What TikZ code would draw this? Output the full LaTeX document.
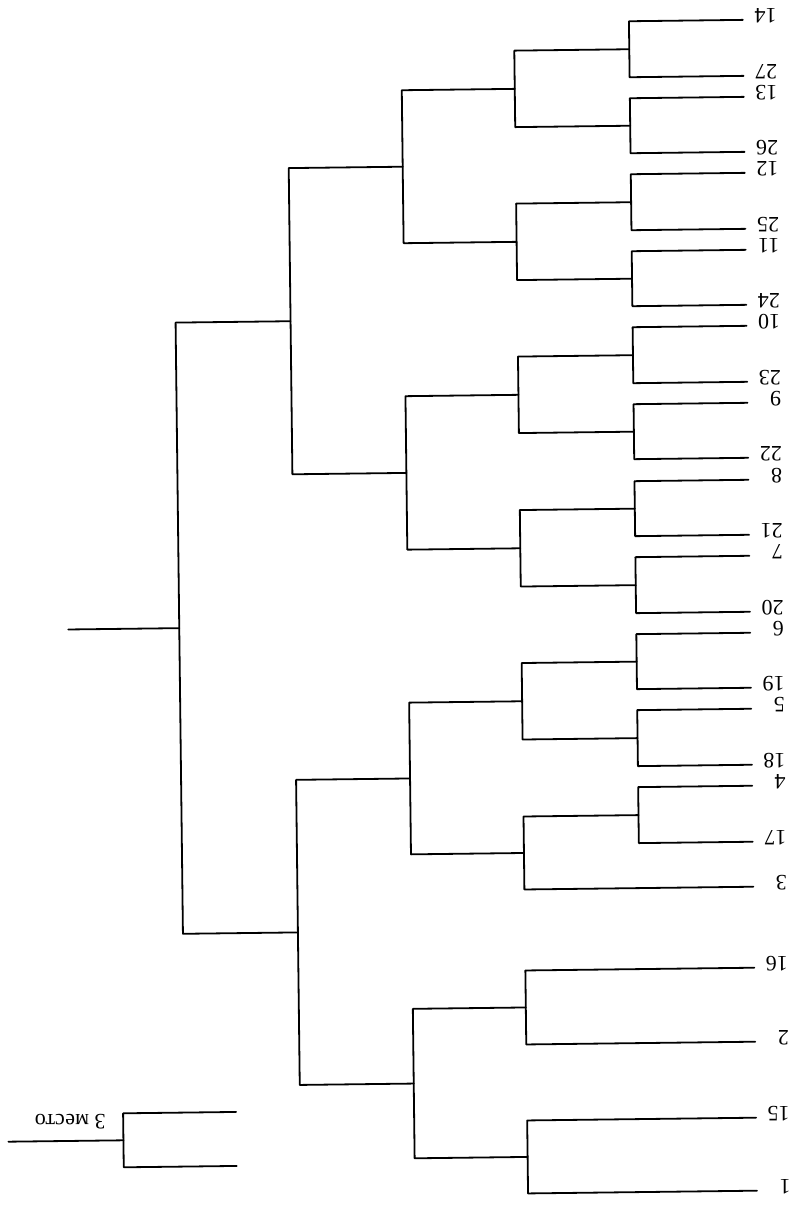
\documentclass[tikz,border=0pt]{standalone}
\usepackage{fontspec}
\setmainfont{Liberation Serif}
\usetikzlibrary{positioning}
\tikzset{
  bracket/.style={line width=0.9pt},
  seed/.style={rotate=180, anchor=west, inner sep=0pt, font=\fontsize{11}{13}\selectfont},
}
\begin{document}
\begin{tikzpicture}[x=0.5pt, y=-0.5pt, line cap=round, line join=round]
  \useasboundingbox (0,0) rectangle (805,1211);
  \begin{scope}[rotate around={0.69:(402,605)}]
    % Leaf ends
    \coordinate (l14) at (750,24);   \coordinate (l27) at (750,80);
    \coordinate (l13) at (750,101);  \coordinate (l26) at (750,156);
    \coordinate (l12) at (750,177);  \coordinate (l25) at (750,233);
    \coordinate (l11) at (750,254);  \coordinate (l24) at (750,309);
    \coordinate (l10) at (750,330);  \coordinate (l23) at (750,386);
    \coordinate (l9) at (750,407);   \coordinate (l22) at (750,462);
    \coordinate (l8) at (750,484);   \coordinate (l21) at (750,539);
    \coordinate (l7) at (750,560);   \coordinate (l20) at (750,616);
    \coordinate (l6) at (750,637);   \coordinate (l19) at (750,692);
    \coordinate (l5) at (750,713);   \coordinate (l18) at (750,769);
    \coordinate (l4) at (750,790);   \coordinate (l17) at (750,846);
    \coordinate (l3) at (750,891);
    \coordinate (l16) at (750,972);  \coordinate (l2) at (750,1046);
    \coordinate (l15) at (750,1122); \coordinate (l1) at (750,1195);

    % Seed numbers (upside down)
    \node[seed] (s14) at (784,20) {14};   \node[seed] (s27) at (784,76) {27};
    \node[seed] (s13) at (784,97) {13};   \node[seed] (s26) at (784,152) {26};
    \node[seed] (s12) at (784,173) {12};  \node[seed] (s25) at (784,229) {25};
    \node[seed] (s11) at (784,250) {11};  \node[seed] (s24) at (784,305) {24};
    \node[seed] (s10) at (784,326) {10};  \node[seed] (s23) at (784,382) {23};
    \node[seed] (s9) at (784,403) {9};    \node[seed] (s22) at (784,458) {22};
    \node[seed] (s8) at (784,480) {8};    \node[seed] (s21) at (784,535) {21};
    \node[seed] (s7) at (784,556) {7};    \node[seed] (s20) at (784,612) {20};
    \node[seed] (s6) at (784,633) {6};    \node[seed] (s19) at (784,688) {19};
    \node[seed] (s5) at (784,709) {5};    \node[seed] (s18) at (784,765) {18};
    \node[seed] (s4) at (784,786) {4};    \node[seed] (s17) at (784,842) {17};
    \node[seed] (s3) at (784,887) {3};
    \node[seed] (s16) at (784,968) {16};  \node[seed] (s2) at (784,1042) {2};
    \node[seed] (s15) at (784,1118) {15}; \node[seed] (s1) at (784,1191) {1};

    % First round
    \coordinate (j1) at (636,52);    \coordinate (j2) at (636,128.5);
    \coordinate (j3) at (636,205);   \coordinate (j4) at (636,281.5);
    \coordinate (j5) at (636,358);   \coordinate (j6) at (636,434.5);
    \coordinate (j7) at (636,511.5); \coordinate (j8) at (636,588);
    \coordinate (j9) at (636,664.5); \coordinate (j10) at (636,741);
    \coordinate (j11) at (636,818);
    \draw[bracket] (l14) -| (j1) |- (l27);
    \draw[bracket] (l13) -| (j2) |- (l26);
    \draw[bracket] (l12) -| (j3) |- (l25);
    \draw[bracket] (l11) -| (j4) |- (l24);
    \draw[bracket] (l10) -| (j5) |- (l23);
    \draw[bracket] (l9) -| (j6) |- (l22);
    \draw[bracket] (l8) -| (j7) |- (l21);
    \draw[bracket] (l7) -| (j8) |- (l20);
    \draw[bracket] (l6) -| (j9) |- (l19);
    \draw[bracket] (l5) -| (j10) |- (l18);
    \draw[bracket] (l4) -| (j11) |- (l17);

    % Second round
    \coordinate (a1) at (521,90.25);  \coordinate (a2) at (521,243.25);
    \coordinate (a3) at (521,396.25); \coordinate (a4) at (521,549.75);
    \coordinate (a5) at (521,702.75); \coordinate (a6) at (521,854.5);
    \coordinate (a7) at (521,1009);   \coordinate (a8) at (521,1158.5);
    \draw[bracket] (j1) -| (a1) |- (j2);
    \draw[bracket] (j3) -| (a2) |- (j4);
    \draw[bracket] (j5) -| (a3) |- (j6);
    \draw[bracket] (j7) -| (a4) |- (j8);
    \draw[bracket] (j9) -| (a5) |- (j10);
    \draw[bracket] (j11) -| (a6) |- (l3);
    \draw[bracket] (l16) -| (a7) |- (l2);
    \draw[bracket] (l15) -| (a8) |- (l1);

    % Quarter finals
    \coordinate (c1) at (408,166.75); \coordinate (c2) at (408,473);
    \coordinate (c3) at (408,778.6);  \coordinate (c4) at (408,1083.75);
    \draw[bracket] (a1) -| (c1) |- (a2);
    \draw[bracket] (a3) -| (c2) |- (a4);
    \draw[bracket] (a5) -| (c3) |- (a6);
    \draw[bracket] (a7) -| (c4) |- (a8);

    % Semi finals and final
    \coordinate (d1) at (294,319.9);
    \coordinate (d2) at (294,931.2);
    \draw[bracket] (c1) -| (d1) |- (c2);
    \draw[bracket] (c3) -| (d2) |- (c4);
    \coordinate (fin) at (179,625.5);
    \coordinate (win) at (68,625.5);
    \draw[bracket] (d1) -| (fin) |- (d2);
    \draw[bracket] (fin) -- (win);

    % Match for third place
    \coordinate (t1) at (230,1110);
    \coordinate (t2) at (230,1164);
    \coordinate (tj) at (117,1137);
    \coordinate (tw) at (2,1137);
    \draw[bracket] (t1) -| (tj) |- (t2);
    \draw[bracket] (tj) -- (tw);
    \node[rotate=180, inner sep=0pt, font=\fontsize{11}{13}\selectfont] (third) at (64,1118) {3 место};
  \end{scope}
\end{tikzpicture}
\end{document}
